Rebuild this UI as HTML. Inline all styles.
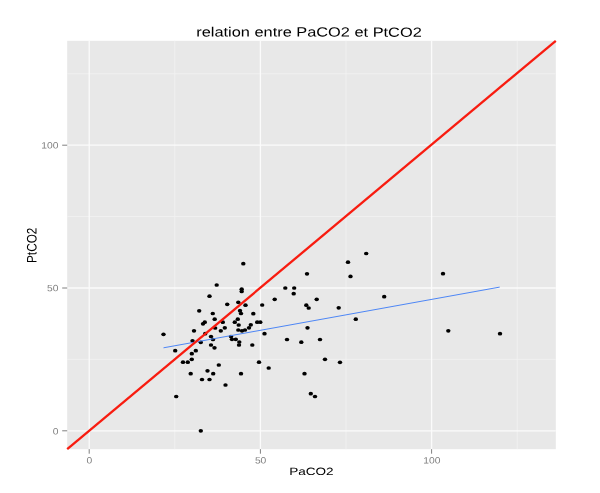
<!DOCTYPE html>
<html><head><meta charset="utf-8"><title>relation entre PaCO2 et PtCO2</title>
<style>html,body{margin:0;padding:0;background:#fff}svg{display:block}text{font-family:"Liberation Sans",sans-serif;text-rendering:geometricPrecision}</style></head><body>
<svg width="600" height="493" viewBox="0 0 600 493">
<rect width="600" height="493" fill="#ffffff"/>
<rect x="67.2" y="40.8" width="488.6" height="408.4" fill="#e8e8e8"/>
<g stroke="#f2f2f2" stroke-width="0.8">
<line x1="174.8" y1="40.8" x2="174.8" y2="449.2"/>
<line x1="67.2" y1="359.4" x2="555.8" y2="359.4"/>
<line x1="346.0" y1="40.8" x2="346.0" y2="449.2"/>
<line x1="67.2" y1="216.6" x2="555.8" y2="216.6"/>
<line x1="517.2" y1="40.8" x2="517.2" y2="449.2"/>
<line x1="67.2" y1="73.8" x2="555.8" y2="73.8"/>
</g>
<g stroke="#fbfbfb" stroke-width="1.3">
<line x1="89.2" y1="40.8" x2="89.2" y2="449.2"/>
<line x1="67.2" y1="430.8" x2="555.8" y2="430.8"/>
<line x1="260.4" y1="40.8" x2="260.4" y2="449.2"/>
<line x1="67.2" y1="288.0" x2="555.8" y2="288.0"/>
<line x1="431.6" y1="40.8" x2="431.6" y2="449.2"/>
<line x1="67.2" y1="145.2" x2="555.8" y2="145.2"/>
</g>
<g stroke="#808080" stroke-width="1">
<line x1="89.2" y1="449.2" x2="89.2" y2="453.7"/>
<line x1="62.2" y1="430.8" x2="67.2" y2="430.8"/>
<line x1="260.4" y1="449.2" x2="260.4" y2="453.7"/>
<line x1="62.2" y1="288.0" x2="67.2" y2="288.0"/>
<line x1="431.6" y1="449.2" x2="431.6" y2="453.7"/>
<line x1="62.2" y1="145.2" x2="67.2" y2="145.2"/>
</g>
<g fill="#000000">
<ellipse cx="243.3" cy="263.7" rx="2.2" ry="1.85"/>
<ellipse cx="216.7" cy="285" rx="2.2" ry="1.85"/>
<ellipse cx="241.7" cy="289.2" rx="2.2" ry="1.85"/>
<ellipse cx="241.7" cy="291.5" rx="2.2" ry="1.85"/>
<ellipse cx="209.5" cy="296.2" rx="2.2" ry="1.85"/>
<ellipse cx="238.3" cy="302.3" rx="2.2" ry="1.85"/>
<ellipse cx="227.2" cy="304.3" rx="2.2" ry="1.85"/>
<ellipse cx="245.5" cy="305.2" rx="2.2" ry="1.85"/>
<ellipse cx="199.2" cy="310.8" rx="2.2" ry="1.85"/>
<ellipse cx="240" cy="310.7" rx="2.2" ry="1.85"/>
<ellipse cx="212.8" cy="313.5" rx="2.2" ry="1.85"/>
<ellipse cx="241" cy="313.5" rx="2.2" ry="1.85"/>
<ellipse cx="214.7" cy="319.2" rx="2.2" ry="1.85"/>
<ellipse cx="237.8" cy="319.2" rx="2.2" ry="1.85"/>
<ellipse cx="204.8" cy="322.2" rx="2.2" ry="1.85"/>
<ellipse cx="203" cy="323.8" rx="2.2" ry="1.85"/>
<ellipse cx="194" cy="330.8" rx="2.2" ry="1.85"/>
<ellipse cx="163.5" cy="334.3" rx="2.2" ry="1.85"/>
<ellipse cx="205.2" cy="333.7" rx="2.2" ry="1.85"/>
<ellipse cx="192.5" cy="340.8" rx="2.2" ry="1.85"/>
<ellipse cx="200.8" cy="342.3" rx="2.2" ry="1.85"/>
<ellipse cx="253.3" cy="313.7" rx="2.2" ry="1.85"/>
<ellipse cx="222.8" cy="322.2" rx="2.2" ry="1.85"/>
<ellipse cx="234.8" cy="322.2" rx="2.2" ry="1.85"/>
<ellipse cx="257.2" cy="322.2" rx="2.2" ry="1.85"/>
<ellipse cx="260.3" cy="322.2" rx="2.2" ry="1.85"/>
<ellipse cx="238.7" cy="325" rx="2.2" ry="1.85"/>
<ellipse cx="250.8" cy="324.8" rx="2.2" ry="1.85"/>
<ellipse cx="249" cy="327.8" rx="2.2" ry="1.85"/>
<ellipse cx="224.8" cy="327.8" rx="2.2" ry="1.85"/>
<ellipse cx="215.2" cy="328" rx="2.2" ry="1.85"/>
<ellipse cx="220.8" cy="330.8" rx="2.2" ry="1.85"/>
<ellipse cx="238.3" cy="330" rx="2.2" ry="1.85"/>
<ellipse cx="242" cy="330.8" rx="2.2" ry="1.85"/>
<ellipse cx="245" cy="330" rx="2.2" ry="1.85"/>
<ellipse cx="211" cy="336.5" rx="2.2" ry="1.85"/>
<ellipse cx="231" cy="336.5" rx="2.2" ry="1.85"/>
<ellipse cx="213" cy="339.5" rx="2.2" ry="1.85"/>
<ellipse cx="232" cy="339.3" rx="2.2" ry="1.85"/>
<ellipse cx="235.8" cy="339.3" rx="2.2" ry="1.85"/>
<ellipse cx="239.3" cy="342" rx="2.2" ry="1.85"/>
<ellipse cx="239" cy="345" rx="2.2" ry="1.85"/>
<ellipse cx="211" cy="345" rx="2.2" ry="1.85"/>
<ellipse cx="252.3" cy="345" rx="2.2" ry="1.85"/>
<ellipse cx="214.5" cy="347.8" rx="2.2" ry="1.85"/>
<ellipse cx="259" cy="362.2" rx="2.2" ry="1.85"/>
<ellipse cx="218.8" cy="365" rx="2.2" ry="1.85"/>
<ellipse cx="207.5" cy="370.8" rx="2.2" ry="1.85"/>
<ellipse cx="213.2" cy="373.7" rx="2.2" ry="1.85"/>
<ellipse cx="241" cy="373.7" rx="2.2" ry="1.85"/>
<ellipse cx="202" cy="379.5" rx="2.2" ry="1.85"/>
<ellipse cx="209.5" cy="379.5" rx="2.2" ry="1.85"/>
<ellipse cx="225.5" cy="385" rx="2.2" ry="1.85"/>
<ellipse cx="175.2" cy="350.7" rx="2.2" ry="1.85"/>
<ellipse cx="195.8" cy="350.7" rx="2.2" ry="1.85"/>
<ellipse cx="191.8" cy="353.7" rx="2.2" ry="1.85"/>
<ellipse cx="191.8" cy="359.3" rx="2.2" ry="1.85"/>
<ellipse cx="183" cy="362.2" rx="2.2" ry="1.85"/>
<ellipse cx="187.8" cy="362.2" rx="2.2" ry="1.85"/>
<ellipse cx="190.7" cy="373.7" rx="2.2" ry="1.85"/>
<ellipse cx="176.2" cy="396.5" rx="2.2" ry="1.85"/>
<ellipse cx="200.8" cy="430.8" rx="2.2" ry="1.85"/>
<ellipse cx="307" cy="273.8" rx="2.2" ry="1.85"/>
<ellipse cx="348" cy="262.2" rx="2.2" ry="1.85"/>
<ellipse cx="350.5" cy="276.4" rx="2.2" ry="1.85"/>
<ellipse cx="285.3" cy="288" rx="2.2" ry="1.85"/>
<ellipse cx="294.2" cy="288" rx="2.2" ry="1.85"/>
<ellipse cx="293.7" cy="293.7" rx="2.2" ry="1.85"/>
<ellipse cx="274.7" cy="299.3" rx="2.2" ry="1.85"/>
<ellipse cx="316.7" cy="299.3" rx="2.2" ry="1.85"/>
<ellipse cx="262.2" cy="305" rx="2.2" ry="1.85"/>
<ellipse cx="306.3" cy="305.2" rx="2.2" ry="1.85"/>
<ellipse cx="308.7" cy="308" rx="2.2" ry="1.85"/>
<ellipse cx="338.7" cy="307.8" rx="2.2" ry="1.85"/>
<ellipse cx="307.5" cy="327.8" rx="2.2" ry="1.85"/>
<ellipse cx="264.5" cy="333.7" rx="2.2" ry="1.85"/>
<ellipse cx="287" cy="339.5" rx="2.2" ry="1.85"/>
<ellipse cx="320" cy="339.5" rx="2.2" ry="1.85"/>
<ellipse cx="301.3" cy="342.2" rx="2.2" ry="1.85"/>
<ellipse cx="325" cy="359.3" rx="2.2" ry="1.85"/>
<ellipse cx="340" cy="362.3" rx="2.2" ry="1.85"/>
<ellipse cx="268.7" cy="368" rx="2.2" ry="1.85"/>
<ellipse cx="304.5" cy="373.7" rx="2.2" ry="1.85"/>
<ellipse cx="310.8" cy="393.7" rx="2.2" ry="1.85"/>
<ellipse cx="315" cy="396.5" rx="2.2" ry="1.85"/>
<ellipse cx="366.2" cy="253.5" rx="2.2" ry="1.85"/>
<ellipse cx="384.2" cy="296.7" rx="2.2" ry="1.85"/>
<ellipse cx="355.8" cy="319.2" rx="2.2" ry="1.85"/>
<ellipse cx="443" cy="273.7" rx="2.2" ry="1.85"/>
<ellipse cx="448.3" cy="330.8" rx="2.2" ry="1.85"/>
<ellipse cx="500" cy="333.7" rx="2.2" ry="1.85"/>
</g>
<line x1="163.5" y1="347.8" x2="499.7" y2="287.1" stroke="#4d86f5" stroke-width="1"/>
<line x1="67.2" y1="449.2" x2="555.8" y2="40.8" stroke="#f81c10" stroke-width="2.3"/>
<text transform="translate(89.4,463.4) rotate(0.03) scale(1.12,1)" font-size="9.2" fill="#7f7f7f" text-anchor="middle">0</text>
<text transform="translate(58.4,434.4) rotate(0.03) scale(1.12,1)" font-size="9.2" fill="#7f7f7f" text-anchor="end">0</text>
<text transform="translate(260.6,463.4) rotate(0.03) scale(1.12,1)" font-size="9.2" fill="#7f7f7f" text-anchor="middle">50</text>
<text transform="translate(58.4,291.3) rotate(0.03) scale(1.12,1)" font-size="9.2" fill="#7f7f7f" text-anchor="end">50</text>
<text transform="translate(431.8,463.4) rotate(0.03) scale(1.12,1)" font-size="9.2" fill="#7f7f7f" text-anchor="middle">100</text>
<text transform="translate(58.4,148.4) rotate(0.03) scale(1.12,1)" font-size="9.2" fill="#7f7f7f" text-anchor="end">100</text>
<text transform="translate(309,36.6) rotate(0.03) scale(1.23,1)" font-size="13.3" fill="#000" text-anchor="middle">relation entre PaCO2 et PtCO2</text>
<text transform="translate(311.4,475) rotate(0.03) scale(1.28,1)" font-size="10.6" fill="#000" text-anchor="middle">PaCO2</text>
<text transform="translate(36.4,245.3) scale(1.167,1) rotate(-90.03)" font-size="11.8" fill="#000" text-anchor="middle">PtCO2</text>
</svg></body></html>
